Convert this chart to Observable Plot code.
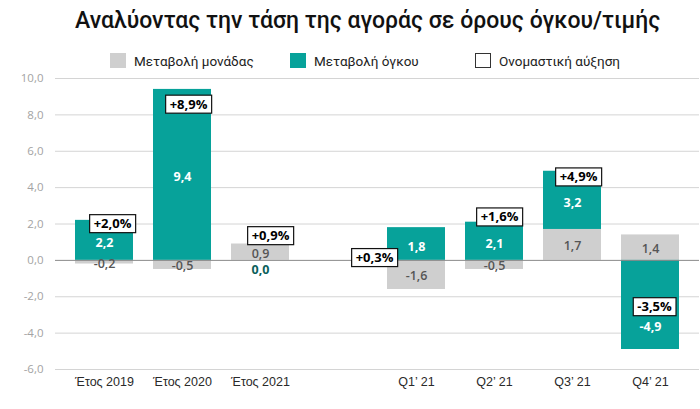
<!DOCTYPE html>
<html>
<head>
<meta charset="utf-8">
<script src="https://cdn.jsdelivr.net/npm/d3@7"></script>
<script src="https://cdn.jsdelivr.net/npm/@observablehq/plot@0.6"></script>
<style>
  html, body { margin: 0; padding: 0; background: #fff; }
  body { width: 700px; height: 409px; overflow: hidden; position: relative; font-family: Roboto, "Noto Sans", sans-serif; }
  #title { position: absolute; top: 7px; left: 75px; width: 580px; text-align: center; font-size: 23px; font-weight: 500; color: #111; white-space: nowrap; }
  #legend { position: absolute; top: 52px; left: 0; width: 700px; height: 17px; font-size: 13.5px; color: #222; }
  .item { position: absolute; top: 0; display: flex; align-items: center; height: 17px; }
  .sw { width: 16px; height: 15px; margin-right: 8px; box-sizing: border-box; }
  #chart { position: absolute; top: 70px; left: 0; }
</style>
</head>
<body>
<div id="title">Αναλύοντας την τάση της αγοράς σε όρους όγκου/τιμής</div>
<div id="legend"></div>
<div id="chart"></div>
<script>
// ---- data ----
const categories = ["Έτος 2019", "Έτος 2020", "Έτος 2021", "Q1’ 21", "Q2’ 21", "Q3’ 21", "Q4’ 21"];
const unitChange = [-0.2, -0.5, 0.9, -1.6, -0.5, 1.7, 1.4];      // Μεταβολή μονάδας
const volumeChange = [2.2, 9.4, 0.0, 1.8, 2.1, 3.2, -4.9];      // Μεταβολή όγκου
const nominalGrowth = [2.0, 8.9, 0.9, 0.3, 1.6, 4.9, -3.5];     // Ονομαστική αύξηση
const yTicks = [-6, -4, -2, 0, 2, 4, 6, 8, 10];
const seriesNames = ["Μεταβολή μονάδας", "Μεταβολή όγκου", "Ονομαστική αύξηση"];

// ---- styles ----
const GREY = "#cfcfcf";
const TEAL = "#07a29a";
const GAP = " ";
const xDomain = [...categories.slice(0, 3), GAP, ...categories.slice(3)];

// legend
const legend = document.getElementById("legend");
const legendItems = [
  {name: seriesNames[0], left: 110, style: `background:${GREY}`},
  {name: seriesNames[1], left: 290, style: `background:${TEAL}`},
  {name: seriesNames[2], left: 475, style: `background:#fff;border:1.3px solid #333`}
];
for (const it of legendItems) {
  const d = document.createElement("div");
  d.className = "item";
  d.style.left = it.left + "px";
  d.innerHTML = `<div class="sw" style="${it.style}"></div><span>${it.name}</span>`;
  legend.appendChild(d);
}

const fmt = v => v.toFixed(1).replace(".", ",");
const fmtPct = v => (v >= 0 ? "+" : "") + v.toFixed(1).replace(".", ",") + "%";

const rows = [];
categories.forEach((c, i) => {
  rows.push({cat: c, i, series: "unit", value: unitChange[i]});
  rows.push({cat: c, i, series: "volume", value: volumeChange[i]});
});
const nominal = categories.map((c, i) => ({cat: c, i, value: nominalGrowth[i]}));

// stack first (all rows), then filter which labels this mark shows
function valueLabels(test, opts) {
  return Plot.text(rows, Plot.filter(test, Plot.stackY({
    x: "cat", y: "value", z: "series",
    text: d => fmt(d.value),
    fontFamily: "'Open Sans', sans-serif",
    fontSize: 12.5,
    ...opts
  })));
}

function nominalLabels(test, dx, dy) {
  return Plot.text(nominal, {
    x: "cat", y: "value", text: d => fmtPct(d.value),
    filter: test, dx, dy,
    fill: "#000", fontWeight: 700, fontSize: 13,
    fontFamily: "'Open Sans', sans-serif",
    ariaLabel: () => "nominal"
  });
}

const chart = Plot.plot({
  width: 700,
  height: 339,
  marginLeft: 55,
  marginRight: 1,
  marginTop: 8,
  marginBottom: 40,
  x: {type: "band", domain: xDomain, padding: 0.255, label: null},
  y: {domain: [-6, 10], label: null},
  style: {fontFamily: "'Open Sans', sans-serif", background: "#fff"},
  marks: [
    Plot.ruleY(yTicks.filter(t => t !== 0), {stroke: "#d4d4d4", strokeWidth: 1}),
    Plot.axisY({ticks: yTicks, tickFormat: fmt, tickSize: 0, tickPadding: 12, color: "#a3a3a3", fontSize: 11.5, label: null}),
    Plot.axisX({tickSize: 0, tickPadding: 8, color: "#2a2a2a", fontSize: 12.5, fontFamily: "'Liberation Sans', Arial, sans-serif", label: null, tickFormat: d => d === GAP ? "" : d}),
    Plot.barY(rows, Plot.stackY({x: "cat", y: "value", z: "series", fill: d => d.series === "unit" ? GREY : TEAL})),
    Plot.ruleY([0], {stroke: "#8a8a8a", strokeWidth: 1}),
    // grey labels
    valueLabels(d => d.series === "unit", {fill: "#555", fontWeight: 600, dy: 1.5}),
    // teal labels inside bars
    valueLabels(d => d.series === "volume" && d.value !== 0 && d.value > -4, {fill: "#fff", fontWeight: 700, dy: 2.5}),
    valueLabels(d => d.series === "volume" && d.value <= -4, {fill: "#fff", fontWeight: 700, dy: 22}),
    // zero-height volume bar: label just below the zero line
    Plot.text(rows, {
      filter: d => d.series === "volume" && d.value === 0,
      x: "cat", y: "value", text: d => fmt(d.value), dy: 10,
      fill: "#0b5f5b", fontWeight: 700, fontSize: 12.5, fontFamily: "'Open Sans', sans-serif"
    }),
    // nominal growth boxes
    nominalLabels(d => d.cat === categories[0], 8, 0),
    nominalLabels(d => d.cat === categories[1], 6, 6),
    nominalLabels(d => d.cat === categories[2], 10, -8),
    nominalLabels(d => d.cat === categories[3], -42, 3),
    nominalLabels(d => d.cat === categories[4], 5, -14),
    nominalLabels(d => d.cat === categories[5], 6, 6),
    nominalLabels(d => d.cat === categories[6], 4, -17)
  ]
});

document.getElementById("chart").appendChild(chart);

// draw white boxes with black borders behind the nominal-growth labels
chart.querySelectorAll('text[aria-label="nominal"]').forEach(t => {
  const b = t.getBBox();
  const r = document.createElementNS("http://www.w3.org/2000/svg", "rect");
  r.setAttribute("x", b.x - 4);
  r.setAttribute("y", b.y + 0.5);
  r.setAttribute("width", b.width + 8);
  r.setAttribute("height", b.height);
  r.setAttribute("fill", "#fff");
  r.setAttribute("stroke", "#111");
  r.setAttribute("stroke-width", 1.2);
  if (t.getAttribute("transform")) r.setAttribute("transform", t.getAttribute("transform"));
  t.parentNode.insertBefore(r, t);
});
</script>
</body>
</html>
